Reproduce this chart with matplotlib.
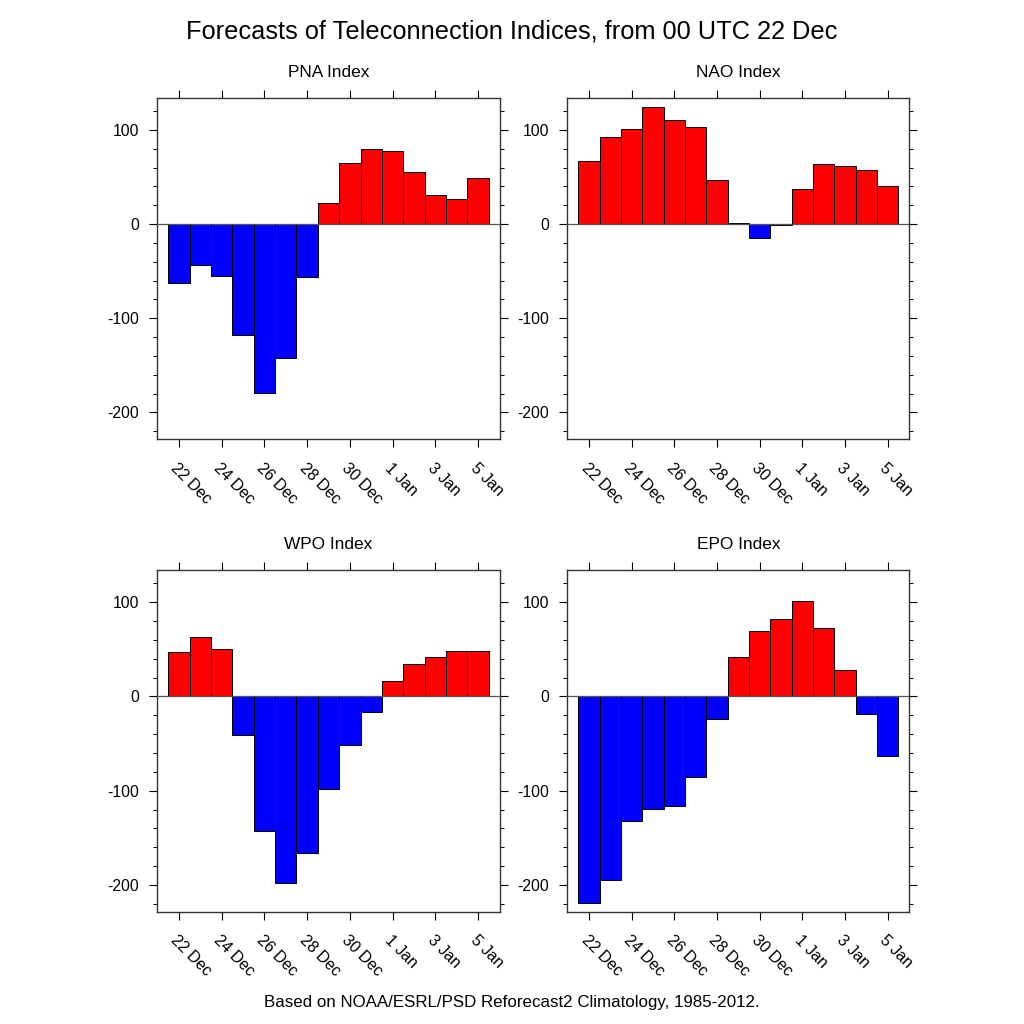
import numpy as np
import matplotlib
matplotlib.use('Agg')
import matplotlib.pyplot as plt

plt.rcParams['font.family'] = ['Liberation Sans', 'DejaVu Sans']
plt.rcParams['axes.unicode_minus'] = False

# forecast days, 22 Dec .. 5 Jan
days = ['22 Dec', '23 Dec', '24 Dec', '25 Dec', '26 Dec', '27 Dec', '28 Dec', '29 Dec',
        '30 Dec', '31 Dec', '1 Jan', '2 Jan', '3 Jan', '4 Jan', '5 Jan']

pna = [-62, -43, -55, -118, -179, -142, -56, 22, 65, 80, 78, 55, 31, 27, 49]
nao = [67, 93, 101, 124, 111, 103, 47, 1.4, -15, -1.4, 37, 64, 62, 57, 40]
wpo = [47, 63, 50, -41, -143, -198, -166, -98, -51, -16, 16, 34, 42, 48, 48]
epo = [-219, -195, -132, -119, -116, -85, -24, 42, 70, 82, 101, 73, 28, -19, -63]

titles = ['PNA Index', 'NAO Index', 'WPO Index', 'EPO Index']
series = [pna, nao, wpo, epo]

W = 1024.0
# panel boxes in pixels: left, top, right, bottom
boxes = [(157, 97.7, 500, 439.3), (567.3, 97.7, 909.3, 439.3),
         (157, 570, 500, 911.7), (567.3, 570, 909.3, 911.7)]

fig = plt.figure(figsize=(10.24, 10.24), dpi=100)

x = np.arange(len(days))

for vals, name, (l, t, r, b) in zip(series, titles, boxes):
    ax = fig.add_axes([l / W, 1 - b / W, (r - l) / W, (b - t) / W])
    vals = np.array(vals)
    cols = np.where(vals >= 0, '#ff0000', '#0000ff')
    ax.bar(x, vals, width=1.0, color=cols, edgecolor='black', linewidth=0.7, zorder=2)
    ax.axhline(0, color='#555555', lw=0.9, zorder=3)
    ax.set_xlim(-1.02, 15.02)
    ax.set_ylim(-228.5, 134.3)
    ax.set_yticks([-200, -100, 0, 100])
    ax.set_yticks(np.arange(-220, 135, 20), minor=True)
    ax.set_xticks(x[::2])
    ax.set_xticklabels(days[::2], rotation=-45, ha='left', va='top',
                       rotation_mode='anchor', fontsize=11.5)
    ax.tick_params(axis='both', which='major', direction='out', length=6,
                   width=0.8, top=True, right=True)
    ax.tick_params(axis='y', which='major', pad=7, labelsize=11.3)
    ax.tick_params(axis='x', which='major', pad=9)
    ax.tick_params(axis='y', which='minor', direction='out', length=3,
                   width=0.7, right=True, left=True)
    ax.tick_params(axis='x', which='minor', bottom=False, top=False)
    for s in ax.spines.values():
        s.set_linewidth(1.0)
        s.set_color('#333333')
    ax.set_title(name, fontsize=12.4, pad=15)

fig.text(0.5, 1 - 32 / W, 'Forecasts of Teleconnection Indices, from 00 UTC 22 Dec',
         ha='center', va='center', fontsize=18.3)
fig.text(0.5, 1 - 1002 / W, 'Based on NOAA/ESRL/PSD Reforecast2 Climatology, 1985-2012.',
         ha='center', va='center', fontsize=12.2)

fig.savefig('out.png', dpi=100)
